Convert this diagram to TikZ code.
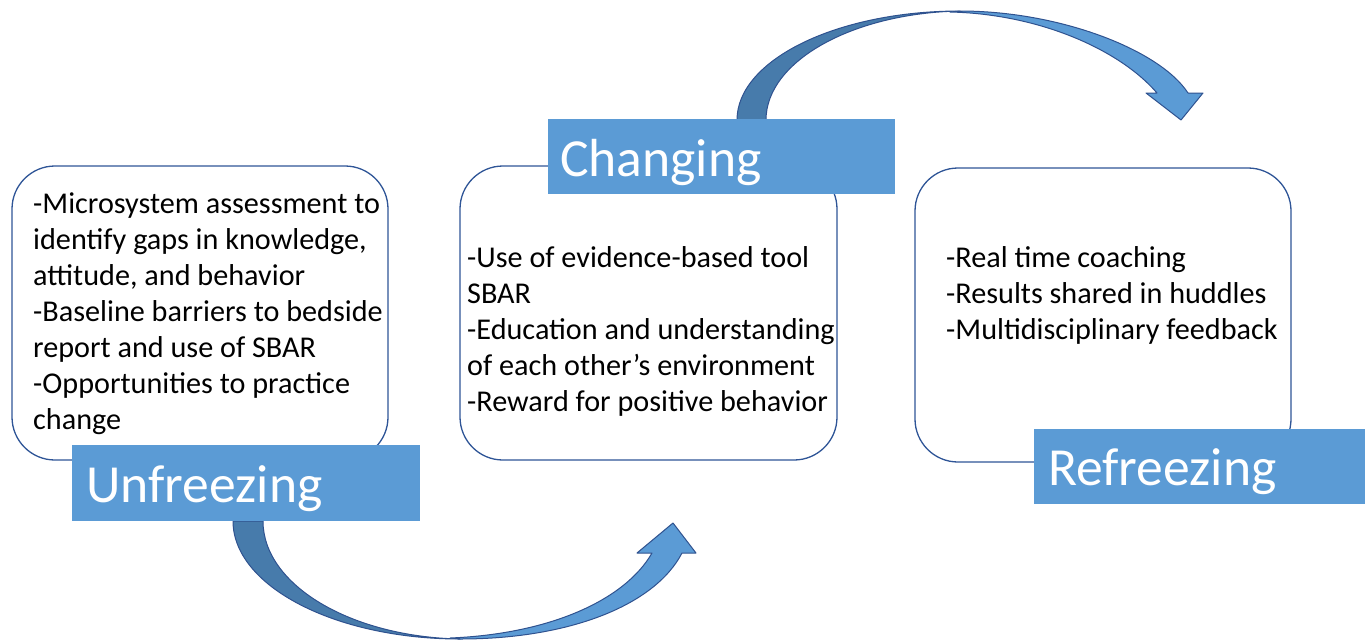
\documentclass[tikz,border=0pt]{standalone}
\usepackage{fontspec}
\setmainfont{Carlito}
\definecolor{boxline}{HTML}{2F5597}
\definecolor{accent}{HTML}{5B9BD5}
\definecolor{accentdark}{HTML}{477BAB}
\definecolor{arrowline}{HTML}{2F528F}
\begin{document}
\begin{tikzpicture}[x=1pt,y=-1pt,
  phasebox/.style={draw=boxline, line width=1.3pt, fill=white, rounded corners=43pt},
  stagebar/.style={fill=accent, draw=none, inner sep=0pt, anchor=north west},
  stagetext/.style={text=white, inner sep=0pt, anchor=base west, font=\fontsize{53.6}{60}\selectfont},
  bodytext/.style={inner sep=0pt, anchor=base west, align=left, font=\fontsize{30.2}{36}\selectfont},
  arrowback/.style={fill=accentdark, draw=arrowline, line width=1pt, line join=round},
  arrowfront/.style={fill=accent, draw=arrowline, line width=1pt, line join=round}]
\useasboundingbox (0,0) rectangle (1365,641);

% phase boxes
\draw[phasebox] (12,166) rectangle (388,460);
\draw[phasebox] (460,166) rectangle (837,460);
\draw[phasebox] (915,168) rectangle (1291,462);

% box contents (anchored on the baseline of the last line)
\node[bodytext] (t1) at (33,429) {-Microsystem assessment to\\identify gaps in knowledge,\\attitude, and behavior\\-Baseline barriers to bedside\\report and use of SBAR\\-Opportunities to practice\\change};
\node[bodytext] (t2) at (467,411) {-Use of evidence-based tool\\SBAR\\-Education and understanding\\of each other’s environment\\-Reward for positive behavior};
\node[bodytext] (t3) at (946,339) {-Real time coaching\\-Results shared in huddles\\-Multidisciplinary feedback};

% lower curved arrow: Unfreezing -> Changing
\path[arrowback] (233,521) .. controls (233,586) and (335,639) .. (460,639)
  .. controls (351,637) and (263,585) .. (263,521) -- cycle;
\path[arrowfront] (460,639) .. controls (570,639) and (655,605) .. (682,553)
  -- (696,553) -- (673,523) -- (637,553) -- (652,553)
  .. controls (625,600) and (550,634) .. (450,638) -- cycle;

% upper curved arrow: Changing -> Refreezing
\path[arrowback] (737,120) .. controls (737,60) and (837,11) .. (960,11)
  .. controls (853,13) and (766,61) .. (766,120) -- cycle;
\path[arrowfront] (960,11) .. controls (1060,11) and (1160,50) .. (1188,93)
  -- (1203,93) -- (1181,120) -- (1146,93) -- (1157,93)
  .. controls (1120,50) and (1040,14) .. (950,12) -- cycle;

% stage labels
\node[stagebar, minimum width=348pt, minimum height=76pt] (unfbar) at (72,445) {};
\node[stagetext] (unf) at (86,502) {Unfreezing};
\node[stagebar, minimum width=347pt, minimum height=75pt] (chgbar) at (548,119) {};
\node[stagetext] (chg) at (560,176) {Changing};
\node[stagebar, minimum width=331pt, minimum height=75pt] (refbar) at (1034,429) {};
\node[stagetext] (ref) at (1048,485) {Refreezing};
\end{tikzpicture}
\end{document}
